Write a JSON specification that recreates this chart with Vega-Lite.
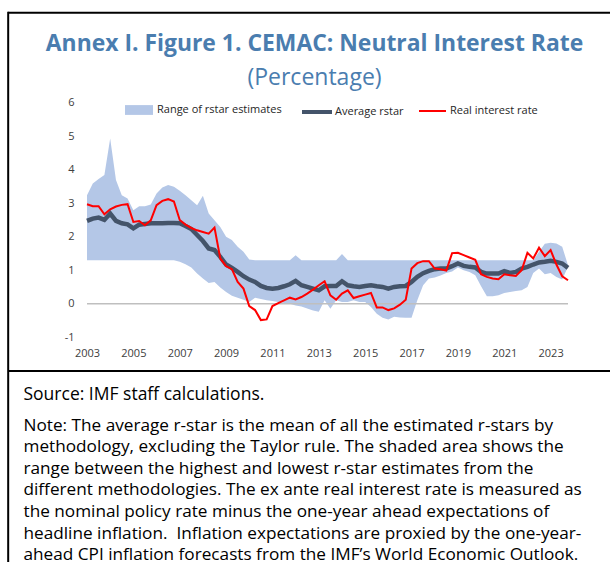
{
  "$schema": "https://vega.github.io/schema/vega-lite/v6.json",
  "width": 481,
  "height": 234.5,
  "autosize": {"type": "none"},
  "padding": {"left": 87, "top": 102.7, "right": 42, "bottom": 224.8},
  "background": "white",
  "config": {
    "view": {"stroke": null},
    "font": "Open Sans",
    "axis": {"labelOverlap": false, "labelBound": false},
    "legend": {"padding": 0, "labelFontSize": 11, "labelColor": "#262626", "title": null}
  },
  "title": {
    "text": "Annex I. Figure 1. CEMAC: Neutral Interest Rate",
    "subtitle": "(Percentage)",
    "frame": "group",
    "anchor": "middle",
    "dx": -13,
    "offset": -79,
    "fontSize": 22.9,
    "fontWeight": "bold",
    "color": "#4A7DAF",
    "subtitleFontSize": 23,
    "subtitleColor": "#4A7DAF",
    "subtitlePadding": 11
  },
  "data": {"values": [
    {"t": 2003.00, "lo": 1.30, "hi": 3.24, "avg": 2.47, "real": 2.97},
    {"t": 2003.25, "lo": 1.30, "hi": 3.59, "avg": 2.54, "real": 2.91},
    {"t": 2003.50, "lo": 1.30, "hi": 3.72, "avg": 2.57, "real": 2.91},
    {"t": 2003.75, "lo": 1.30, "hi": 3.84, "avg": 2.50, "real": 2.67},
    {"t": 2004.00, "lo": 1.30, "hi": 4.93, "avg": 2.69, "real": 2.82},
    {"t": 2004.25, "lo": 1.30, "hi": 3.69, "avg": 2.47, "real": 2.90},
    {"t": 2004.50, "lo": 1.30, "hi": 3.24, "avg": 2.40, "real": 2.95},
    {"t": 2004.75, "lo": 1.30, "hi": 3.14, "avg": 2.37, "real": 2.97},
    {"t": 2005.00, "lo": 1.30, "hi": 2.79, "avg": 2.25, "real": 2.44},
    {"t": 2005.25, "lo": 1.30, "hi": 2.91, "avg": 2.36, "real": 2.47},
    {"t": 2005.50, "lo": 1.30, "hi": 2.91, "avg": 2.38, "real": 2.34},
    {"t": 2005.75, "lo": 1.30, "hi": 2.96, "avg": 2.40, "real": 2.49},
    {"t": 2006.00, "lo": 1.30, "hi": 3.29, "avg": 2.40, "real": 2.94},
    {"t": 2006.25, "lo": 1.30, "hi": 3.47, "avg": 2.40, "real": 3.07},
    {"t": 2006.50, "lo": 1.30, "hi": 3.54, "avg": 2.41, "real": 3.12},
    {"t": 2006.75, "lo": 1.30, "hi": 3.49, "avg": 2.41, "real": 3.05},
    {"t": 2007.00, "lo": 1.25, "hi": 3.37, "avg": 2.40, "real": 2.50},
    {"t": 2007.25, "lo": 1.18, "hi": 3.24, "avg": 2.32, "real": 2.36},
    {"t": 2007.50, "lo": 1.08, "hi": 3.09, "avg": 2.23, "real": 2.26},
    {"t": 2007.75, "lo": 0.90, "hi": 2.94, "avg": 2.05, "real": 2.19},
    {"t": 2008.00, "lo": 0.75, "hi": 3.22, "avg": 1.87, "real": 2.14},
    {"t": 2008.25, "lo": 0.62, "hi": 2.69, "avg": 1.65, "real": 2.09},
    {"t": 2008.50, "lo": 0.65, "hi": 2.49, "avg": 1.60, "real": 2.27},
    {"t": 2008.75, "lo": 0.48, "hi": 2.29, "avg": 1.40, "real": 1.35},
    {"t": 2009.00, "lo": 0.35, "hi": 2.00, "avg": 1.17, "real": 1.12},
    {"t": 2009.25, "lo": 0.24, "hi": 1.90, "avg": 1.07, "real": 1.03},
    {"t": 2009.50, "lo": 0.18, "hi": 1.70, "avg": 0.95, "real": 0.65},
    {"t": 2009.75, "lo": 0.12, "hi": 1.55, "avg": 0.82, "real": 0.45},
    {"t": 2010.00, "lo": 0.05, "hi": 1.32, "avg": 0.72, "real": -0.07},
    {"t": 2010.25, "lo": 0.18, "hi": 1.30, "avg": 0.65, "real": -0.19},
    {"t": 2010.50, "lo": 0.14, "hi": 1.30, "avg": 0.53, "real": -0.49},
    {"t": 2010.75, "lo": 0.10, "hi": 1.30, "avg": 0.47, "real": -0.47},
    {"t": 2011.00, "lo": 0.08, "hi": 1.30, "avg": 0.45, "real": -0.07},
    {"t": 2011.25, "lo": 0.05, "hi": 1.30, "avg": 0.47, "real": 0.02},
    {"t": 2011.50, "lo": 0.02, "hi": 1.30, "avg": 0.52, "real": 0.10},
    {"t": 2011.75, "lo": 0.00, "hi": 1.30, "avg": 0.58, "real": 0.18},
    {"t": 2012.00, "lo": -0.05, "hi": 1.45, "avg": 0.68, "real": 0.13},
    {"t": 2012.25, "lo": -0.08, "hi": 1.30, "avg": 0.55, "real": 0.20},
    {"t": 2012.50, "lo": -0.14, "hi": 1.30, "avg": 0.50, "real": 0.30},
    {"t": 2012.75, "lo": -0.20, "hi": 1.30, "avg": 0.45, "real": 0.42},
    {"t": 2013.00, "lo": -0.24, "hi": 1.30, "avg": 0.40, "real": 0.55},
    {"t": 2013.25, "lo": 0.10, "hi": 1.30, "avg": 0.52, "real": 0.67},
    {"t": 2013.50, "lo": -0.15, "hi": 1.30, "avg": 0.53, "real": 0.25},
    {"t": 2013.75, "lo": 0.10, "hi": 1.30, "avg": 0.53, "real": 0.12},
    {"t": 2014.00, "lo": 0.05, "hi": 1.48, "avg": 0.67, "real": 0.30},
    {"t": 2014.25, "lo": 0.05, "hi": 1.30, "avg": 0.55, "real": 0.40},
    {"t": 2014.50, "lo": 0.10, "hi": 1.30, "avg": 0.52, "real": 0.17},
    {"t": 2014.75, "lo": 0.05, "hi": 1.30, "avg": 0.50, "real": 0.22},
    {"t": 2015.00, "lo": 0.05, "hi": 1.30, "avg": 0.53, "real": 0.27},
    {"t": 2015.25, "lo": -0.10, "hi": 1.30, "avg": 0.55, "real": 0.32},
    {"t": 2015.50, "lo": -0.30, "hi": 1.30, "avg": 0.52, "real": -0.11},
    {"t": 2015.75, "lo": -0.42, "hi": 1.30, "avg": 0.50, "real": -0.11},
    {"t": 2016.00, "lo": -0.47, "hi": 1.30, "avg": 0.45, "real": -0.19},
    {"t": 2016.25, "lo": -0.39, "hi": 1.30, "avg": 0.50, "real": -0.14},
    {"t": 2016.50, "lo": -0.41, "hi": 1.30, "avg": 0.52, "real": -0.03},
    {"t": 2016.75, "lo": -0.42, "hi": 1.30, "avg": 0.53, "real": 0.12},
    {"t": 2017.00, "lo": -0.42, "hi": 1.30, "avg": 0.65, "real": 1.05},
    {"t": 2017.25, "lo": 0.10, "hi": 1.30, "avg": 0.80, "real": 1.21},
    {"t": 2017.50, "lo": 0.55, "hi": 1.30, "avg": 0.91, "real": 1.27},
    {"t": 2017.75, "lo": 0.75, "hi": 1.30, "avg": 0.98, "real": 1.27},
    {"t": 2018.00, "lo": 0.78, "hi": 1.30, "avg": 1.03, "real": 1.05},
    {"t": 2018.25, "lo": 0.84, "hi": 1.30, "avg": 1.05, "real": 1.03},
    {"t": 2018.50, "lo": 0.92, "hi": 1.30, "avg": 1.05, "real": 0.99},
    {"t": 2018.75, "lo": 0.96, "hi": 1.30, "avg": 1.12, "real": 1.51},
    {"t": 2019.00, "lo": 1.08, "hi": 1.30, "avg": 1.20, "real": 1.52},
    {"t": 2019.25, "lo": 1.00, "hi": 1.30, "avg": 1.13, "real": 1.45},
    {"t": 2019.50, "lo": 0.95, "hi": 1.30, "avg": 1.10, "real": 1.38},
    {"t": 2019.75, "lo": 0.85, "hi": 1.30, "avg": 1.08, "real": 1.31},
    {"t": 2020.00, "lo": 0.52, "hi": 1.30, "avg": 0.95, "real": 0.88},
    {"t": 2020.25, "lo": 0.22, "hi": 1.30, "avg": 0.90, "real": 0.80},
    {"t": 2020.50, "lo": 0.22, "hi": 1.30, "avg": 0.90, "real": 0.75},
    {"t": 2020.75, "lo": 0.25, "hi": 1.30, "avg": 0.90, "real": 0.73},
    {"t": 2021.00, "lo": 0.32, "hi": 1.30, "avg": 0.97, "real": 0.88},
    {"t": 2021.25, "lo": 0.35, "hi": 1.30, "avg": 0.92, "real": 0.85},
    {"t": 2021.50, "lo": 0.38, "hi": 1.30, "avg": 0.95, "real": 0.83},
    {"t": 2021.75, "lo": 0.40, "hi": 1.30, "avg": 1.05, "real": 1.00},
    {"t": 2022.00, "lo": 0.50, "hi": 1.30, "avg": 1.10, "real": 1.52},
    {"t": 2022.25, "lo": 0.92, "hi": 1.30, "avg": 1.17, "real": 1.35},
    {"t": 2022.50, "lo": 1.05, "hi": 1.55, "avg": 1.23, "real": 1.67},
    {"t": 2022.75, "lo": 0.88, "hi": 1.79, "avg": 1.25, "real": 1.42},
    {"t": 2023.00, "lo": 0.92, "hi": 1.82, "avg": 1.28, "real": 1.60},
    {"t": 2023.25, "lo": 0.80, "hi": 1.80, "avg": 1.25, "real": 1.17},
    {"t": 2023.50, "lo": 0.72, "hi": 1.70, "avg": 1.20, "real": 0.82},
    {"t": 2023.75, "lo": 1.10, "hi": 1.15, "avg": 1.07, "real": 0.70}
  ]},
  "layer": [
    {
      "mark": {"type": "area", "opacity": 1},
      "encoding": {
        "x": {
          "field": "t",
          "type": "quantitative",
          "scale": {"domain": [2003, 2023.75], "nice": false, "zero": false},
          "axis": {
            "values": [2003, 2005, 2007, 2009, 2011, 2013, 2015, 2017, 2019, 2021, 2023],
            "tickCount": 20,
            "format": "d",
            "domain": false,
            "ticks": false,
            "grid": false,
            "labelFlush": false,
            "labelOverlap": false,
            "labelFontSize": 11,
            "labelColor": "#404040",
            "labelPadding": 10,
            "title": [
              "Note: The average r-star is the mean of all the estimated r-stars by",
              "methodology, excluding the Taylor rule. The shaded area shows the",
              "range between the highest and lowest r-star estimates from the",
              "different methodologies. The ex ante real interest rate is measured as",
              "the nominal policy rate minus the one-year ahead expectations of",
              "headline inflation.\u00a0 Inflation expectations are proxied by the one-year-",
              "ahead CPI inflation forecasts from the IMF’s World Economic Outlook."
            ],
            "titleX": -64,
            "titleY": 79,
            "titleAlign": "left",
            "titleAnchor": "start",
            "titleBaseline": "top",
            "titleFontSize": 17.2,
            "titleFontWeight": "normal",
            "titleLineHeight": 21.6,
            "titleColor": "#000000"
          }
        },
        "y": {
          "field": "lo",
          "type": "quantitative",
          "scale": {"domain": [-1, 6], "nice": false, "zero": false},
          "axis": {
            "values": [-1, 0, 1, 2, 3, 4, 5, 6],
            "tickCount": 20,
            "labelExpr": "'' + datum.value",
            "labelOverlap": false,
            "domain": false,
            "ticks": false,
            "grid": false,
            "labelFontSize": 11,
            "labelColor": "#404040",
            "labelPadding": 13,
            "title": "Source: IMF staff calculations.",
            "titleAngle": 0,
            "titleX": -64,
            "titleY": 283,
            "titleAlign": "left",
            "titleBaseline": "top",
            "titleFontSize": 17.5,
            "titleFontWeight": "normal",
            "titleColor": "#000000"
          }
        },
        "y2": {"field": "hi"},
        "fill": {
          "datum": "Range of rstar estimates",
          "type": "nominal",
          "scale": {"range": ["#B4C7E7"]},
          "legend": {
            "orient": "none",
            "legendX": 38,
            "legendY": -6.7,
            "symbolType": "M-1,-0.35H1V0.35H-1Z",
            "symbolSize": 784,
            "symbolStrokeWidth": 0,
            "symbolOpacity": 1,
            "labelOffset": 4
          }
        }
      }
    },
    {
      "data": {"values": [{}]},
      "mark": {"type": "rule", "color": "#BFBFBF", "strokeWidth": 1.5},
      "encoding": {"y": {"datum": 0, "type": "quantitative"}}
    },
    {
      "mark": {"type": "line", "strokeWidth": 4.5},
      "encoding": {
        "x": {"field": "t", "type": "quantitative"},
        "y": {"field": "avg", "type": "quantitative"},
        "color": {
          "datum": "Average rstar",
          "type": "nominal",
          "scale": {"range": ["#44546A"]},
          "legend": {
            "orient": "none",
            "legendX": 213,
            "legendY": -7.7,
            "symbolType": "stroke",
            "symbolSize": 900,
            "symbolStrokeWidth": 4,
            "labelOffset": 1
          }
        }
      }
    },
    {
      "mark": {"type": "line", "strokeWidth": 2},
      "encoding": {
        "x": {"field": "t", "type": "quantitative"},
        "y": {"field": "real", "type": "quantitative"},
        "stroke": {
          "datum": "Real interest rate",
          "type": "nominal",
          "scale": {"range": ["#FF0000"]},
          "legend": {
            "orient": "none",
            "legendX": 331,
            "legendY": -6.2,
            "symbolType": "stroke",
            "symbolSize": 729,
            "symbolStrokeWidth": 2,
            "labelOffset": 3
          }
        }
      }
    },
    {
      "data": {"values": [{}]},
      "mark": {"type": "rule", "color": "#000000", "strokeWidth": 2, "clip": false},
      "encoding": {
        "x": {"datum": 1999.6, "type": "quantitative"},
        "x2": {"datum": 2027},
        "y": {"datum": 8.684, "type": "quantitative"}
      }
    },
    {
      "data": {"values": [{}]},
      "mark": {"type": "rule", "color": "#000000", "strokeWidth": 2, "clip": false},
      "encoding": {
        "x": {"datum": 1999.6, "type": "quantitative"},
        "x2": {"datum": 2027},
        "y": {"datum": -2.009, "type": "quantitative"}
      }
    },
    {
      "data": {"values": [{}]},
      "mark": {"type": "rule", "color": "#000000", "strokeWidth": 2, "clip": false},
      "encoding": {
        "x": {"datum": 1999.6, "type": "quantitative"},
        "y": {"datum": 8.714, "type": "quantitative"},
        "y2": {"datum": -8}
      }
    }
  ]
}
